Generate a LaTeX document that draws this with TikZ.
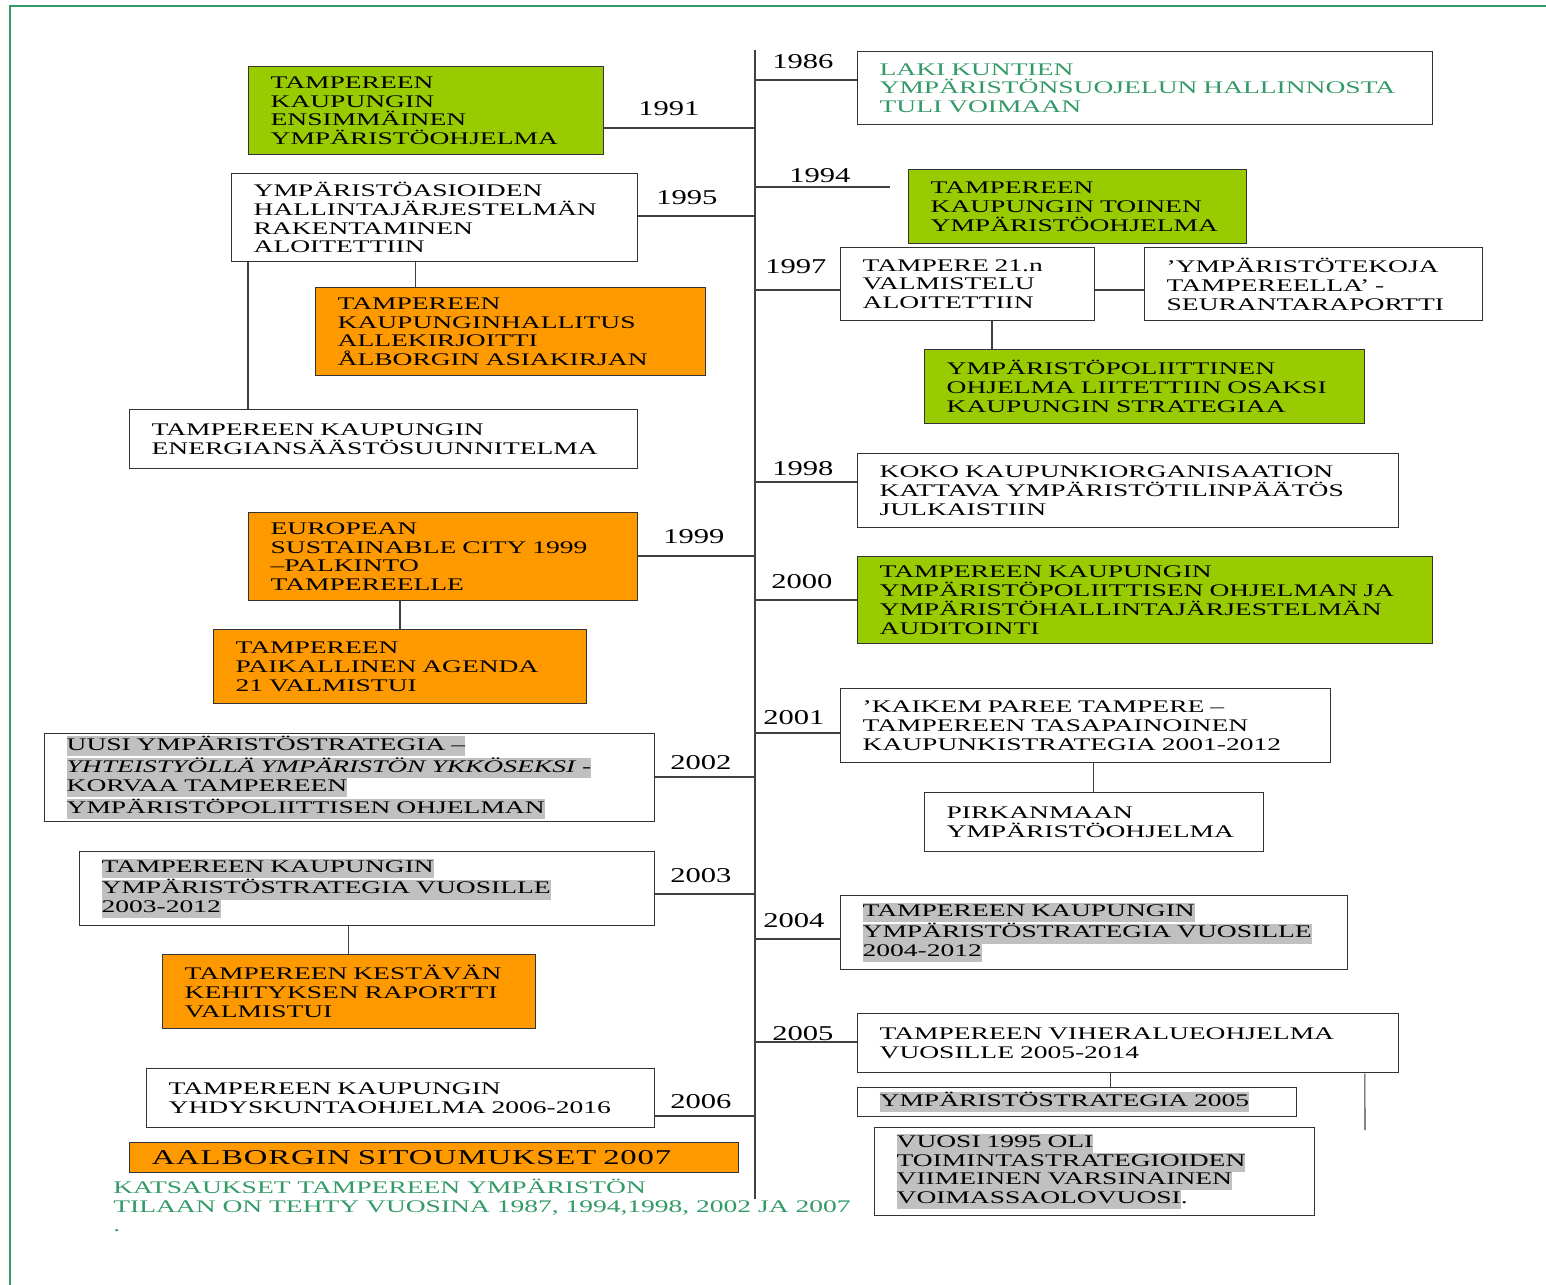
\documentclass[tikz,border=0pt]{standalone}
\usepackage{fontspec}
\setmainfont[FakeStretch=1.55]{Liberation Serif}
\newfontfamily\yearfont[FakeStretch=1.45]{Liberation Serif}
\definecolor{limefill}{HTML}{99CC00}
\definecolor{amberfill}{HTML}{FF9900}
\definecolor{hlgrey}{HTML}{C0C0C0}
\definecolor{seagreen}{HTML}{339966}
\newcommand\boxfont{\fontsize{10.1}{10.7}\selectfont}
\newcommand\hilite[1]{{\setlength\fboxsep{0pt}\colorbox{hlgrey}{\strut#1}}}

\begin{document}
\begin{tikzpicture}[x=0.02cm, y=-0.02cm,
    box/.style={draw=black!80, line width=0.75pt, anchor=north west, align=left,
      inner xsep=0.44cm, inner ysep=0pt, font=\boxfont},
    greenbox/.style={box, fill=limefill},
    orangebox/.style={box, fill=amberfill},
    year/.style={anchor=base west, inner sep=0pt, font=\yearfont\fontsize{12}{14}\selectfont},
    link/.style={draw=black!75, line width=0.6pt}]
  \useasboundingbox (0,0) rectangle (1546,1285);
  \draw[seagreen, line width=0.8pt] (10,1285) -- (10,6) -- (1546,6);

  % time axis
  \coordinate (top) at (755,50);
  \coordinate (bottom) at (755,1199);
  \draw[link] (top) -- (bottom);
  \foreach \yr/\ypos in {86/80, 91/128, 94/187, 95/216, 97/290, 98/482, 99/556,
      00/600, 01/733, 02/777, 03/894, 04/939, 05/1042, 06/1116}
    \coordinate (t\yr) at (755,\ypos);
  \coordinate (e94) at (890,187);
  \coordinate (e05) at (1365,1130);

  \foreach \name/\x/\y in {1986/772/68, 1991/638/115, 1994/789/182, 1995/656/204,
      1997/765/273, 1998/772/475, 1999/663/543, 2000/771/588, 2001/763/724,
      2002/670/769, 2003/670/882, 2004/763/927, 2005/772/1040, 2006/670/1108}
    \node[year] (y\name) at (\x,\y) {\name};

  % right side
  \node[box, text=seagreen, text width=10.62cm, minimum height=1.46cm] (law) at (857,51)
    {LAKI KUNTIEN\\YMPÄRISTÖNSUOJELUN HALLINNOSTA\\TULI VOIMAAN};
  \node[greenbox, text width=5.88cm, minimum height=1.48cm] (second) at (908,169)
    {TAMPEREEN\\KAUPUNGIN TOINEN\\YMPÄRISTÖOHJELMA};
  \node[box, text width=4.20cm, minimum height=1.46cm] (t21) at (840,247)
    {TAMPERE 21.n\\VALMISTELU\\ALOITETTIIN};
  \node[box, text width=5.88cm, minimum height=1.46cm] (teko) at (1144,247)
    {’YMPÄRISTÖTEKOJA\\TAMPEREELLA’ -\\SEURANTARAPORTTI};
  \node[greenbox, text width=7.92cm, minimum height=1.48cm] (policy) at (924,349)
    {YMPÄRISTÖPOLIITTINEN\\OHJELMA LIITETTIIN OSAKSI\\KAUPUNGIN STRATEGIAA};
  \node[box, text width=9.94cm, minimum height=1.48cm] (account) at (857,453)
    {KOKO KAUPUNKIORGANISAATION\\KATTAVA YMPÄRISTÖTILINPÄÄTÖS\\JULKAISTIIN};
  \node[greenbox, text width=10.62cm, minimum height=1.74cm] (audit) at (857,556)
    {TAMPEREEN KAUPUNGIN\\YMPÄRISTÖPOLIITTISEN OHJELMAN JA\\YMPÄRISTÖHALLINTAJÄRJESTELMÄN\\AUDITOINTI};
  \node[box, text width=8.92cm, minimum height=1.48cm] (kaikem) at (840,688)
    {’KAIKEM PAREE TAMPERE –\\TAMPEREEN TASAPAINOINEN\\KAUPUNKISTRATEGIA 2001-2012};
  \node[box, text width=5.90cm, minimum height=1.18cm] (pirkan) at (924,792)
    {PIRKANMAAN\\YMPÄRISTÖOHJELMA};
  \node[box, text width=9.26cm, minimum height=1.48cm] (strat04) at (840,895)
    {\hilite{TAMPEREEN KAUPUNGIN}\\\hilite{YMPÄRISTÖSTRATEGIA VUOSILLE}\\\hilite{2004-2012}};
  \node[box, text width=9.94cm, minimum height=1.18cm] (vihera) at (857,1013)
    {TAMPEREEN VIHERALUEOHJELMA\\VUOSILLE 2005-2014};
  \node[box, text width=7.90cm, minimum height=0.58cm] (strat05) at (857,1087)
    {\hilite{YMPÄRISTÖSTRATEGIA 2005}};
  \node[box, text width=7.92cm, minimum height=1.76cm] (vuosi) at (874,1127)
    {\hilite{VUOSI 1995 OLI}\\\hilite{TOIMINTASTRATEGIOIDEN}\\\hilite{VIIMEINEN VARSINAINEN}\\\hilite{VOIMASSAOLOVUOSI}.};

  % left side
  \node[greenbox, text width=6.22cm, minimum height=1.76cm] (first) at (248,66)
    {TAMPEREEN\\KAUPUNGIN\\ENSIMMÄINEN\\YMPÄRISTÖOHJELMA};
  \node[box, text width=7.24cm, minimum height=1.76cm] (hallinta) at (231,173)
    {YMPÄRISTÖASIOIDEN\\HALLINTAJÄRJESTELMÄN\\RAKENTAMINEN\\ALOITETTIIN};
  \node[orangebox, text width=6.92cm, minimum height=1.76cm] (alb95) at (315,287)
    {TAMPEREEN\\KAUPUNGINHALLITUS\\ALLEKIRJOITTI\\ÅLBORGIN ASIAKIRJAN};
  \node[box, text width=9.28cm, minimum height=1.18cm] (energy) at (129,409)
    {TAMPEREEN KAUPUNGIN\\ENERGIANSÄÄSTÖSUUNNITELMA};
  \node[orangebox, text width=6.90cm, minimum height=1.76cm] (esc) at (248,512)
    {EUROPEAN\\SUSTAINABLE CITY 1999\\–PALKINTO\\TAMPEREELLE};
  \node[orangebox, text width=6.58cm, minimum height=1.48cm] (agenda) at (213,629)
    {TAMPEREEN\\PAIKALLINEN AGENDA\\21 VALMISTUI};
  \node[box, text width=11.32cm, minimum height=1.76cm] (uusi) at (44,733)
    {\hilite{UUSI YMPÄRISTÖSTRATEGIA –}\\\hilite{\textit{YHTEISTYÖLLÄ YMPÄRISTÖN YKKÖSEKSI} -}\\\hilite{KORVAA TAMPEREEN}\\\hilite{YMPÄRISTÖPOLIITTISEN OHJELMAN}};
  \node[box, text width=10.62cm, minimum height=1.48cm] (strat03) at (79,851)
    {\hilite{TAMPEREEN KAUPUNGIN}\\\hilite{YMPÄRISTÖSTRATEGIA VUOSILLE}\\\hilite{2003-2012}};
  \node[orangebox, text width=6.58cm, minimum height=1.48cm] (kestava) at (162,954)
    {TAMPEREEN KESTÄVÄN\\KEHITYKSEN RAPORTTI\\VALMISTUI};
  \node[box, text width=9.28cm, minimum height=1.18cm] (yhdys) at (146,1068)
    {TAMPEREEN KAUPUNGIN\\YHDYSKUNTAOHJELMA 2006-2016};
  \node[orangebox, text width=11.30cm, minimum height=0.6cm, text depth=0pt,
    font=\fontsize{12}{14}\selectfont\addfontfeature{LetterSpace=4}] (alb07) at (129,1142)
    {AALBORGIN SITOUMUKSET 2007};
  \node[anchor=north west, align=left, inner sep=0pt, font=\boxfont, text=seagreen] (review) at (113,1179)
    {KATSAUKSET TAMPEREEN YMPÄRISTÖN\\TILAAN ON TEHTY VUOSINA 1987, 1994,1998, 2002 JA 2007\\.};

  % year links and branches
  \draw[link] (t86) -- (t86 -| law.west);
  \draw[link] (t91) -- (t91 -| first.east);
  \draw[link] (t94) -- (e94);
  \draw[link] (t95) -- (t95 -| hallinta.east);
  \draw[link] ([xshift=3.7cm]hallinta.south west) -- ([xshift=3.7cm]hallinta.south west |- alb95.north);
  \draw[link] ([xshift=0.34cm]hallinta.south west) -- ([xshift=0.34cm]hallinta.south west |- energy.north);
  \draw[link] (t97) -- (t97 -| t21.west);
  \draw[link] (t97 -| t21.east) -- (t97 -| teko.west);
  \draw[link] ([xshift=3.04cm]t21.south west) -- ([xshift=3.04cm]t21.south west |- policy.north);
  \draw[link] (t98) -- (t98 -| account.west);
  \draw[link] (t99) -- (t99 -| esc.east);
  \draw[link] ([xshift=3.04cm]esc.south west) -- ([xshift=3.04cm]esc.south west |- agenda.north);
  \draw[link] (t00) -- (t00 -| audit.west);
  \draw[link] (t01) -- (t01 -| kaikem.west);
  \draw[link] ([xshift=5.08cm]kaikem.south west) -- ([xshift=5.08cm]kaikem.south west |- pirkan.north);
  \draw[link] (t02) -- (t02 -| uusi.east);
  \draw[link] (t03) -- (t03 -| strat03.east);
  \draw[link] ([xshift=5.4cm]strat03.south west) -- ([xshift=5.4cm]strat03.south west |- kestava.north);
  \draw[link] (t04) -- (t04 -| strat04.west);
  \draw[link] (t05) -- (t05 -| vihera.west);
  \draw[link] ([xshift=5.08cm]vihera.south west) -- ([xshift=5.08cm]vihera.south west |- strat05.north);
  \draw[link] ([xshift=10.16cm]vihera.south west) -- (e05);
  \draw[link] (t06) -- (t06 -| yhdys.east);
\end{tikzpicture}
\end{document}
